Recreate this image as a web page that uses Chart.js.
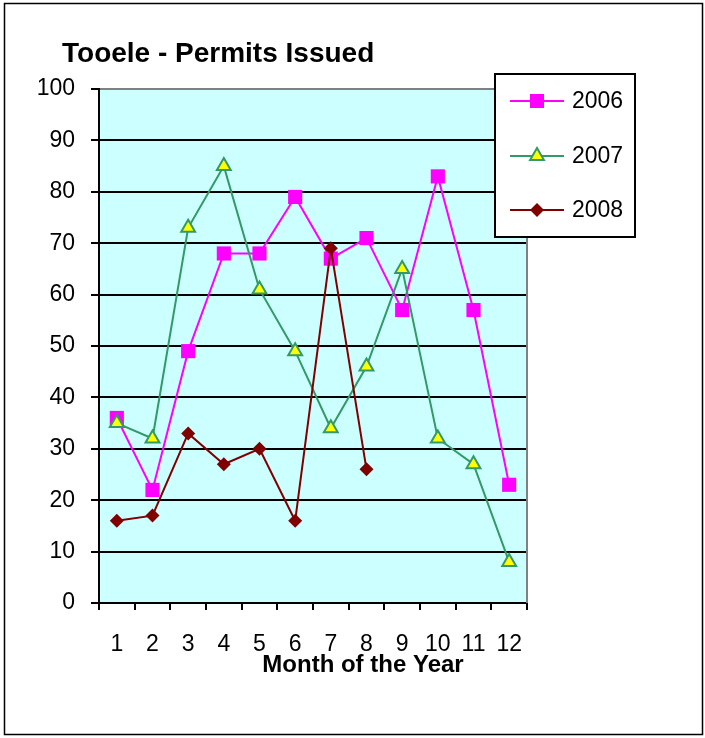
<!DOCTYPE html>
<html>
<head>
<meta charset="utf-8">
<script src="https://cdn.jsdelivr.net/npm/chart.js@4/dist/chart.umd.min.js"></script>
<style>
html,body{margin:0;padding:0;background:#fff;}
#wrap{width:705px;height:738px;position:relative;}
</style>
</head>
<body>
<div id="wrap"><canvas id="c" width="705" height="738"></canvas></div>
<script>
const months = ['1','2','3','4','5','6','7','8','9','10','11','12'];
const permits2006 = [36,22,49,68,68,79,67,71,57,83,57,23];
const permits2007 = [35,32,73,85,61,49,34,46,65,32,27,8];
const permits2008 = [16,17,33,27,30,16,69,26,null,null,null,null];
const seriesNames = ['2006','2007','2008'];
const chartTitle = 'Tooele - Permits Issued';
const xTitle = 'Month of the Year';

const FONT = "'Liberation Sans', Arial, sans-serif";
const C06 = '#FF00FF', C07 = '#339966', C07F = '#FFFF00', C08 = '#800000';

const decor = {
  id: 'decor',
  beforeDraw(chart) {
    const ctx = chart.ctx, a = chart.chartArea;
    ctx.save();
    ctx.fillStyle = '#fff';
    ctx.fillRect(0, 0, chart.width, chart.height);
    ctx.fillStyle = '#CCFFFF';
    ctx.fillRect(a.left, a.top, a.right - a.left, a.bottom - a.top);
    ctx.restore();
  },
  afterDraw(chart) {
    const ctx = chart.ctx, a = chart.chartArea;
    ctx.save();
    ctx.strokeStyle = '#808080';
    ctx.lineWidth = 2;
    ctx.beginPath();
    ctx.moveTo(a.right, a.top);
    ctx.lineTo(a.right, a.bottom);
    ctx.stroke();
    ctx.strokeStyle = '#000';
    ctx.lineWidth = 1.5;
    ctx.strokeRect(4.5, 3.5, 698, 731);
    ctx.fillStyle = '#000';
    ctx.font = 'bold 28px ' + FONT;
    ctx.textBaseline = 'middle';
    ctx.textAlign = 'left';
    ctx.fillText(chartTitle, 62, 54);
    ctx.font = 'bold 24px ' + FONT;
    ctx.textAlign = 'center';
    ctx.fillText(xTitle, 363, 665);
    const lx = 495, ly = 74, lw = 140, lh = 163;
    ctx.fillStyle = '#fff';
    ctx.fillRect(lx, ly, lw, lh);
    ctx.strokeStyle = '#000';
    ctx.lineWidth = 2;
    ctx.strokeRect(lx, ly, lw, lh);
    const rows = [101, 156, 210];
    const cols = [C06, C07, C08];
    rows.forEach((ry, i) => {
      ctx.strokeStyle = cols[i];
      ctx.lineWidth = 2;
      ctx.beginPath();
      ctx.moveTo(510, ry);
      ctx.lineTo(564, ry);
      ctx.stroke();
      const cx = 537;
      if (i === 0) {
        ctx.fillStyle = C06;
        ctx.fillRect(cx - 7, ry - 7, 14, 14);
      } else if (i === 1) {
        ctx.beginPath();
        ctx.moveTo(cx, ry - 8);
        ctx.lineTo(cx + 6.9, ry + 4);
        ctx.lineTo(cx - 6.9, ry + 4);
        ctx.closePath();
        ctx.fillStyle = C07F;
        ctx.fill();
        ctx.strokeStyle = C07;
        ctx.stroke();
      } else {
        ctx.beginPath();
        ctx.moveTo(cx, ry - 7);
        ctx.lineTo(cx + 7, ry);
        ctx.lineTo(cx, ry + 7);
        ctx.lineTo(cx - 7, ry);
        ctx.closePath();
        ctx.fillStyle = C08;
        ctx.fill();
      }
      ctx.fillStyle = '#000';
      ctx.font = '23px ' + FONT;
      ctx.textAlign = 'left';
      ctx.textBaseline = 'middle';
      ctx.fillText(seriesNames[i], 572, ry + 1);
    });
    ctx.restore();
  }
};

new Chart(document.getElementById('c'), {
  type: 'line',
  data: {
    labels: months,
    datasets: [
      { label: seriesNames[0], data: permits2006, borderColor: C06, backgroundColor: C06,
        pointStyle: 'rect', pointRadius: 10, pointBorderWidth: 0, borderWidth: 2, order: 3 },
      { label: seriesNames[1], data: permits2007, borderColor: C07, backgroundColor: C07F,
        pointBackgroundColor: C07F, pointBorderColor: C07, pointBorderWidth: 2,
        pointStyle: 'triangle', pointRadius: 8, borderWidth: 2, order: 2 },
      { label: seriesNames[2], data: permits2008, borderColor: C08, backgroundColor: C08,
        pointStyle: 'rectRot', pointRadius: 7, pointBorderWidth: 0, borderWidth: 2, order: 1 }
    ]
  },
  options: {
    responsive: false,
    animation: false,
    events: [],
    layout: { padding: { top: 89, right: 178, left: 0, bottom: 0 } },
    plugins: { legend: { display: false }, title: { display: false }, tooltip: { enabled: false } },
    elements: { line: { tension: 0 } },
    scales: {
      x: {
        type: 'category',
        offset: true,
        grid: { offset: true, drawOnChartArea: false, drawTicks: true, tickLength: 7, color: '#000', lineWidth: 2 },
        border: { color: '#000', width: 2 },
        ticks: { color: '#000', font: { family: FONT, size: 23 }, padding: 21, maxRotation: 0, autoSkip: false },
        afterFit(s) { s.height = 135; }
      },
      y: {
        min: 0, max: 100,
        ticks: { stepSize: 10, color: '#000', font: { family: FONT, size: 23 }, padding: 16 },
        grid: {
          color: (c) => (c.tick && c.tick.value === 100 ? '#808080' : '#000'),
          tickColor: '#000', lineWidth: 2, tickLength: 8
        },
        border: { color: '#000', width: 2 },
        afterFit(s) { s.width = 99; }
      }
    }
  },
  plugins: [decor]
});
</script>
</body>
</html>
